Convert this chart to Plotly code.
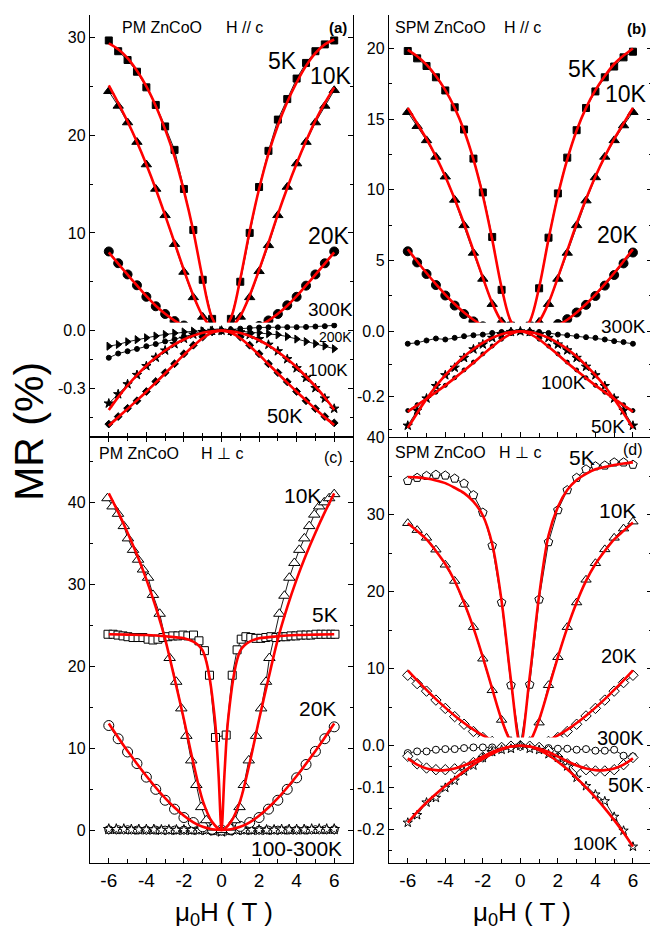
import plotly.graph_objects as go

# The page body has an 8px margin; the figure is sized so that it fills the
# 658x935 window exactly, and reference pixel positions are mapped accordingly.
OFF = 8
W, H = 658 - OFF, 935 - OFF
FONT = "Liberation Sans, Arial, sans-serif"


def fx(px):
    return (px - OFF) / W


def fy(py):
    return 1 - (py - OFF) / H


# ---------------- data ----------------
X_A = [-6.0, -5.5, -5.0, -4.5, -4.0, -3.5, -3.0, -2.5, -2.0, -1.5, -1.0, -0.5, 0.0,
       0.5, 1.0, 1.5, 2.0, 2.5, 3.0, 3.5, 4.0, 4.5, 5.0, 5.5, 6.0]

# panel (a) PM ZnCoO H // c
A5 = [29.7, 28.6, 27.7, 26.5, 24.9, 23.1, 20.9, 18.5, 14.5, 10.3, 5.2, 1.2, 0.0,
      1.2, 5.0, 10.0, 14.7, 18.4, 21.6, 23.7, 25.8, 27.4, 28.6, 29.3, 29.7]
A5_FIT = [29.4, 28.8, 27.9, 26.6, 25.0, 23.0, 20.6, 17.8, 14.3, 10.2, 5.3, 1.3, 0.0,
          1.3, 5.3, 10.2, 14.5, 18.1, 21.0, 23.4, 25.4, 27.1, 28.4, 29.3, 29.8]
A10 = [24.5, 23.0, 21.3, 19.3, 17.0, 14.5, 11.8, 8.85, 6.0, 3.4, 1.4, 0.3, 0.0,
       0.3, 1.4, 3.4, 6.07, 8.73, 11.8, 14.7, 17.1, 19.3, 21.3, 23.0, 24.6]
A10_FIT = [25.1, 23.3, 21.4, 19.3, 17.0, 14.5, 11.8, 9.0, 6.2, 3.6, 1.5, 0.3, 0.0,
           0.3, 1.5, 3.6, 6.2, 9.0, 11.9, 14.6, 17.1, 19.4, 21.5, 23.3, 24.9]
A20 = [8.1, 6.9, 5.75, 4.64, 3.46, 2.49, 1.7, 0.97, 0.52, 0.2, 0.05, 0.01, 0.0,
       0.01, 0.05, 0.14, 0.48, 1.04, 1.7, 2.59, 3.46, 4.6, 5.75, 6.89, 8.1]
A20_FIT = [8.0, 6.85, 5.72, 4.62, 3.52, 2.55, 1.72, 1.03, 0.5, 0.17, 0.03, 0.0, 0.0,
           0.0, 0.03, 0.17, 0.5, 1.03, 1.72, 2.55, 3.52, 4.62, 5.72, 6.85, 8.0]
A300 = [-0.141, -0.119, -0.107, -0.095, -0.081, -0.07, -0.056, -0.045, -0.031, -0.019, -0.009, -0.003, 0.0,
        0.005, 0.01, 0.014, 0.016, 0.017, 0.017, 0.018, 0.018, 0.019, 0.021, 0.023, 0.027]
A200 = [-0.081, -0.072, -0.058, -0.047, -0.037, -0.028, -0.02, -0.013, -0.007, -0.003, -0.001, 0.0, 0.0,
        -0.001, -0.003, -0.007, -0.011, -0.016, -0.022, -0.031, -0.044, -0.057, -0.068, -0.08, -0.094]
A100 = [-0.378, -0.33, -0.278, -0.23, -0.184, -0.14, -0.103, -0.07, -0.042, -0.02, -0.007, -0.001, 0.0,
        -0.002, -0.009, -0.022, -0.044, -0.073, -0.107, -0.148, -0.195, -0.245, -0.298, -0.352, -0.405]
A100_FIT = [-0.412, -0.345, -0.285, -0.231, -0.182, -0.14, -0.103, -0.071, -0.046, -0.026, -0.011, -0.003, 0.0,
            -0.003, -0.012, -0.028, -0.05, -0.077, -0.11, -0.148, -0.19, -0.238, -0.29, -0.347, -0.41]
A50 = [-0.485, -0.446, -0.403, -0.364, -0.316, -0.264, -0.218, -0.172, -0.12, -0.076, -0.033, -0.007, 0.0,
       -0.007, -0.033, -0.076, -0.12, -0.172, -0.218, -0.266, -0.316, -0.364, -0.405, -0.446, -0.479]
A50_FIT = [-0.494, -0.45, -0.406, -0.362, -0.317, -0.27, -0.222, -0.174, -0.126, -0.08, -0.04, -0.01, 0.0,
           -0.01, -0.04, -0.08, -0.126, -0.174, -0.222, -0.27, -0.317, -0.362, -0.406, -0.45, -0.49]

# panel (b) SPM ZnCoO H // c
B5 = [19.82, 19.3, 18.76, 17.96, 17.03, 15.84, 14.27, 12.21, 9.82, 6.67, 2.93, 0.4, 0.0,
      0.4, 3.04, 6.62, 9.75, 12.28, 14.22, 15.79, 16.96, 17.96, 18.72, 19.37, 19.77]
B5_FIT = [19.9, 19.45, 18.85, 18.05, 17.05, 15.8, 14.2, 12.15, 9.6, 6.5, 3.1, 0.7, 0.0,
          0.7, 3.1, 6.5, 9.6, 12.15, 14.2, 15.8, 17.05, 18.05, 18.9, 19.5, 20.0]
B10 = [15.49, 14.5, 13.5, 12.33, 10.93, 9.29, 7.49, 5.54, 3.7, 1.92, 0.7, 0.1, 0.0,
       0.1, 0.66, 1.92, 3.7, 5.54, 7.49, 9.24, 10.88, 12.33, 13.5, 14.55, 15.49]
B10_FIT = [15.8, 14.7, 13.6, 12.35, 10.95, 9.35, 7.6, 5.7, 3.8, 2.0, 0.7, 0.1, 0.0,
           0.1, 0.7, 2.0, 3.8, 5.7, 7.6, 9.35, 10.95, 12.35, 13.6, 14.7, 15.8]
B20 = [5.66, 4.87, 4.05, 3.27, 2.53, 1.82, 1.22, 0.7, 0.35, 0.12, 0.05, 0.01, 0.0,
       0.01, 0.05, 0.23, 0.51, 0.86, 1.33, 1.87, 2.5, 3.23, 3.98, 4.8, 5.57]
B20_FIT = [5.8, 4.95, 4.12, 3.33, 2.6, 1.93, 1.33, 0.82, 0.42, 0.15, 0.03, 0.0, 0.0,
           0.0, 0.03, 0.15, 0.42, 0.82, 1.33, 1.93, 2.6, 3.33, 4.12, 4.95, 5.8]
B300 = [-0.038, -0.035, -0.028, -0.022, -0.025, -0.02, -0.015, -0.012, -0.01, -0.005, -0.002, 0.0, 0.0,
        0.0, -0.002, -0.005, -0.01, -0.012, -0.015, -0.018, -0.02, -0.025, -0.03, -0.033, -0.038]
B100 = [-0.288, -0.242, -0.205, -0.167, -0.134, -0.111, -0.081, -0.055, -0.04, -0.02, -0.01, -0.002, 0.0,
        -0.002, -0.01, -0.02, -0.04, -0.058, -0.081, -0.108, -0.134, -0.167, -0.205, -0.242, -0.288]
B100_FIT = [-0.295, -0.25, -0.207, -0.168, -0.134, -0.104, -0.077, -0.054, -0.035, -0.02, -0.009, -0.002, 0.0,
            -0.002, -0.009, -0.02, -0.035, -0.054, -0.077, -0.104, -0.134, -0.168, -0.207, -0.25, -0.295]
B50 = [-0.242, -0.224, -0.205, -0.186, -0.165, -0.142, -0.118, -0.094, -0.069, -0.045, -0.024, -0.007, 0.0,
       -0.007, -0.024, -0.045, -0.069, -0.094, -0.118, -0.142, -0.165, -0.186, -0.205, -0.224, -0.242]
B50_FIT = [-0.245, -0.226, -0.206, -0.186, -0.165, -0.143, -0.12, -0.096, -0.071, -0.047, -0.025, -0.008, 0.0,
           -0.008, -0.025, -0.047, -0.071, -0.096, -0.12, -0.143, -0.165, -0.186, -0.206, -0.226, -0.245]

# panel (c) PM ZnCoO H perp c
C5_X = [-6.04, -5.77, -5.51, -5.24, -4.98, -4.71, -4.44, -4.18, -3.91, -3.65, -3.38, -3.12, -2.85, -2.59,
        -2.32, -2.05, -1.79, -1.49, -1.2, -0.91, -0.64, -0.32, 0.25, 0.57, 0.83, 1.05, 1.3, 1.56, 1.83,
        2.1, 2.36, 2.63, 2.9, 3.16, 3.43, 3.7, 3.96, 4.23, 4.5, 4.76, 5.03, 5.3, 5.56, 5.83, 6.04]
C5 = [23.9, 23.9, 23.8, 23.7, 23.6, 23.5, 23.5, 23.5, 23.3, 23.2, 23.3, 23.5, 23.6, 23.7,
      23.7, 23.8, 23.7, 23.8, 23.1, 21.9, 18.9, 11.3, 11.6, 18.9, 22.0, 23.3, 23.6, 23.5, 23.4,
      23.4, 23.5, 23.6, 23.5, 23.6, 23.6, 23.7, 23.7, 23.8, 23.8, 23.8, 23.9, 23.9, 23.9, 23.9, 23.9]
C5_FIT_X = [-6.0, -5.0, -4.0, -3.0, -2.0, -1.5, -1.2, -1.0, -0.8, -0.6, -0.4, -0.3, -0.15, 0.0,
            0.15, 0.3, 0.4, 0.6, 0.8, 1.0, 1.2, 1.5, 2.0, 3.0, 4.0, 5.0, 6.0]
C5_FIT = [23.9, 23.85, 23.8, 23.65, 23.4, 23.0, 22.5, 21.9, 20.5, 18.1, 14.5, 12.2, 6.5, 0.0,
          6.5, 12.2, 14.5, 18.1, 20.5, 21.9, 22.5, 23.0, 23.4, 23.65, 23.8, 23.85, 23.9]
C10_X = [-6.07, -5.8, -5.51, -5.2, -4.98, -4.71, -4.44, -4.18, -3.91, -3.65, -3.29, -2.76, -2.41, -2.14,
         -1.87, -1.61, -1.34, -1.08, -0.81, -0.46, 0.0, 0.46, 0.7, 0.96, 1.19, 1.45, 1.84, 2.11, 2.37,
         2.55, 3.08, 3.35, 3.61, 3.88, 4.14, 4.41, 4.67, 4.94, 5.2, 5.47, 5.73, 6.0]
C10 = [40.5, 39.5, 38.6, 37.1, 35.6, 34.2, 33.0, 31.8, 30.8, 28.7, 26.4, 21.0, 18.1, 14.85,
       11.5, 8.5, 5.5, 2.8, 1.2, 0.3, 0.0, 0.3, 1.2, 2.8, 5.5, 8.5, 11.5, 14.85, 18.1,
       21.0, 26.4, 28.6, 30.8, 32.6, 34.2, 35.6, 37.1, 38.5, 39.5, 40.0, 40.5, 41.0]
C10_FIT = [41.1, 38.8, 36.3, 33.6, 30.6, 27.2, 23.3, 18.5, 13.5, 8.2, 3.6, 1.0, 0.0,
           1.0, 3.6, 8.2, 13.5, 18.5, 23.3, 27.2, 30.6, 33.6, 36.3, 38.8, 41.1]
C20 = [12.76, 11.15, 9.53, 8.12, 6.46, 4.97, 3.64, 2.55, 1.53, 0.92, 0.4, 0.1, 0.0,
       0.1, 0.45, 0.92, 1.53, 2.55, 3.64, 4.97, 6.38, 8.0, 9.6, 11.15, 12.6]
C20_FIT = [13.0, 11.3, 9.65, 8.1, 6.6, 5.2, 3.9, 2.75, 1.75, 0.95, 0.4, 0.1, 0.0,
           0.1, 0.4, 0.95, 1.75, 2.75, 3.9, 5.2, 6.6, 8.1, 9.65, 11.3, 13.0]
C_HI_X = [-6.0, -5.6, -5.2, -4.8, -4.4, -4.0, -3.6, -3.2, -2.8, -2.4, -2.0, -1.6, -1.2, -0.8, -0.4, 0.0,
          0.4, 0.8, 1.2, 1.6, 2.0, 2.4, 2.8, 3.2, 3.6, 4.0, 4.4, 4.8, 5.2, 5.6, 6.0]
C100 = [0.1, 0.1, 0.1, 0.05, 0.05, 0.05, 0.05, 0.0, 0.0, 0.0, 0.0, 0.0, 0.0, 0.0, -0.1, -0.2,
        -0.1, 0.0, 0.0, 0.0, 0.0, 0.0, 0.0, 0.05, 0.05, 0.05, 0.05, 0.1, 0.1, 0.1, 0.1]
C200 = [0.05, 0.05, 0.05, 0.0, 0.0, 0.0, 0.0, 0.0, 0.0, 0.0, 0.0, -0.1, 0.0,
        -0.1, 0.0, 0.0, 0.0, 0.0, 0.0, 0.0, 0.0, 0.0, 0.05, 0.05, 0.05]
C300 = [0.0, 0.0, 0.0, 0.0, 0.0, 0.0, 0.0, 0.0, 0.0, 0.0, 0.0, 0.0, 0.0, 0.0, -0.1, -0.1,
        -0.1, 0.0, 0.0, 0.0, 0.0, 0.0, 0.0, 0.0, 0.0, 0.0, 0.0, 0.0, 0.0, 0.0, 0.0]

# panel (d) SPM ZnCoO H perp c
D5 = [34.4, 34.8, 35.05, 35.2, 35.1, 34.7, 34.06, 32.55, 30.28, 25.98, 18.6, 7.86, 0.0,
      7.94, 19.0, 26.45, 30.6, 33.2, 34.8, 35.9, 36.3, 36.4, 36.8, 36.8, 36.5]
D5_FIT = [34.9, 34.85, 34.7, 34.45, 34.1, 33.5, 32.8, 31.7, 29.9, 26.2, 18.8, 8.5, 0.0,
          9.0, 19.5, 27.3, 31.0, 33.2, 34.5, 35.3, 35.9, 36.2, 36.45, 36.65, 36.8]
D10 = [28.9, 28.0, 27.0, 25.46, 23.5, 21.4, 18.4, 15.4, 11.3, 7.2, 3.35, 0.6, 0.0,
       0.6, 3.0, 7.86, 11.5, 15.4, 18.6, 21.55, 23.7, 25.5, 27.0, 28.2, 29.1]
D10_FIT = [28.9, 27.9, 26.8, 25.3, 23.6, 21.4, 18.6, 15.3, 11.5, 7.4, 3.4, 0.6, 0.0,
           0.6, 3.4, 7.4, 11.5, 15.3, 18.6, 21.4, 23.6, 25.3, 26.8, 27.9, 29.0]
D20 = [9.15, 8.07, 7.09, 5.93, 4.85, 3.78, 2.79, 1.85, 1.07, 0.56, 0.21, 0.05, 0.0,
       0.05, 0.21, 0.56, 1.07, 1.85, 2.79, 3.87, 4.85, 5.93, 7.09, 8.2, 9.15]
D20_FIT = [9.8, 8.5, 7.25, 6.05, 4.95, 3.9, 2.95, 2.1, 1.35, 0.72, 0.25, 0.03, 0.0,
           0.03, 0.25, 0.72, 1.35, 2.1, 2.95, 3.9, 4.95, 6.05, 7.25, 8.5, 9.8]
D300 = [-0.0174, -0.0135, -0.0135, -0.0095, -0.008, -0.008, -0.0056, -0.004, -0.004, -0.004, -0.004, -0.002, 0.0,
        -0.002, -0.004, -0.0056, -0.0071, -0.0071, -0.0095, -0.008, -0.0118, -0.0118, -0.0095, -0.0237, -0.0253]
D50 = [-0.025, -0.043, -0.053, -0.057, -0.057, -0.055, -0.05, -0.04, -0.027, -0.012, -0.004, -0.001, 0.0,
       -0.001, -0.004, -0.012, -0.027, -0.043, -0.052, -0.057, -0.06, -0.06, -0.057, -0.045, -0.028]
D50_FIT = [-0.03, -0.045, -0.054, -0.058, -0.058, -0.054, -0.047, -0.037, -0.026, -0.015, -0.007, -0.002, 0.0,
           -0.002, -0.007, -0.015, -0.026, -0.037, -0.047, -0.054, -0.058, -0.058, -0.054, -0.045, -0.03]
D100 = [-0.183, -0.165, -0.135, -0.124, -0.1, -0.083, -0.061, -0.047, -0.029, -0.015, -0.0095, -0.007, 0.0,
        -0.007, -0.01, -0.02, -0.029, -0.049, -0.076, -0.096, -0.116, -0.132, -0.169, -0.202, -0.24]
D100_FIT = [-0.183, -0.158, -0.135, -0.115, -0.096, -0.078, -0.061, -0.045, -0.031, -0.019, -0.009, -0.002, 0.0,
            -0.002, -0.01, -0.022, -0.038, -0.056, -0.077, -0.099, -0.123, -0.149, -0.177, -0.207, -0.24]

# ---------------- figure ----------------
fig = go.Figure()


def data(x, y, xa, ya, symbol, size, filled=True, lw=0.9):
    fig.add_trace(go.Scatter(
        x=x, y=y, xaxis=xa, yaxis=ya, mode="lines+markers",
        line=dict(color="black", width=lw),
        marker=dict(symbol=symbol, size=size,
                    color="black" if filled else "white",
                    line=dict(color="black", width=1)),
        showlegend=False, hoverinfo="skip"))


def fit(x, y, xa, ya):
    fig.add_trace(go.Scatter(
        x=x, y=y, xaxis=xa, yaxis=ya, mode="lines",
        line=dict(color="#ff0000", width=2.6, shape="spline", smoothing=0.9),
        showlegend=False, hoverinfo="skip"))


# (a)
data(X_A, A300, "x", "y2", "circle", 5)
data(X_A, A200, "x", "y2", "triangle-right", 7)
data(X_A, A100, "x", "y2", "star", 7)
data(X_A, A50, "x", "y2", "diamond", 6)
data(X_A, A20, "x", "y", "circle", 9)
data(X_A, A10, "x", "y", "triangle-up", 9)
data(X_A, A5, "x", "y", "square", 7)
fit(X_A, A100_FIT, "x", "y2")
fit(X_A, A50_FIT, "x", "y2")
fit(X_A, A20_FIT, "x", "y")
fit(X_A, A10_FIT, "x", "y")
fit(X_A, A5_FIT, "x", "y")

# (b)
data(X_A, B300, "x2", "y4", "circle", 5)
data(X_A, B100, "x2", "y4", "star", 7)
data(X_A, B50, "x2", "y4", "circle", 4)
data(X_A, B20, "x2", "y3", "circle", 9)
data(X_A, B10, "x2", "y3", "triangle-up", 9)
data(X_A, B5, "x2", "y3", "square", 7)
fit(X_A, B100_FIT, "x2", "y4")
fit(X_A, B50_FIT, "x2", "y4")
fit(X_A, B20_FIT, "x2", "y3")
fit(X_A, B10_FIT, "x2", "y3")
fit(X_A, B5_FIT, "x2", "y3")

# (c)
data(C_HI_X, C300, "x3", "y5", "hexagon", 8, filled=False)
data(X_A, C200, "x3", "y5", "circle", 8, filled=False)
data(C_HI_X, C100, "x3", "y5", "star", 8, filled=False)
data(X_A, C20, "x3", "y5", "circle", 10, filled=False)
data(C10_X, C10, "x3", "y5", "triangle-up", 10, filled=False)
data(C5_X, C5, "x3", "y5", "square", 8, filled=False)
fit(X_A, C20_FIT, "x3", "y5")
fit(X_A, C10_FIT, "x3", "y5")
fit(C5_FIT_X, C5_FIT, "x3", "y5")

# (d)
data(X_A, D300, "x4", "y7", "circle", 7, filled=False)
data(X_A, D50, "x4", "y7", "diamond", 8, filled=False)
data(X_A, D100, "x4", "y7", "star", 7, filled=False)
data(X_A, D20, "x4", "y6", "diamond", 8, filled=False)
data(X_A, D10, "x4", "y6", "triangle-up", 9, filled=False)
data(X_A, D5, "x4", "y6", "pentagon", 9, filled=False)
fit(X_A, D50_FIT, "x4", "y7")
fit(X_A, D100_FIT, "x4", "y7")
fit(X_A, D20_FIT, "x4", "y6")
fit(X_A, D10_FIT, "x4", "y6")
fit(X_A, D5_FIT, "x4", "y6")

# ---------------- axes ----------------
LW = 1.4
minor_x = dict(dtick=1, tick0=0, ticks="inside", ticklen=4, tickcolor="black", tickwidth=1)


def xaxis(dom, anchor, labels, side="bottom", mirror=False):
    return dict(domain=dom, anchor=anchor, range=[-7, 7], side=side,
                tickvals=[-6, -4, -2, 0, 2, 4, 6], ticktext=["-6", "-4", "-2", "0", "2", "4", "6"],
                showticklabels=labels, ticks="inside", ticklen=5, tickwidth=1.2, tickcolor="black",
                minor=minor_x, showline=True, linecolor="black", linewidth=LW,
                mirror="ticks" if mirror else False, showgrid=False, zeroline=False,
                tickfont=dict(family=FONT, size=19, color="black"))


def yaxis(dom, anchor, rng, tv, tt, minor_vals):
    return dict(domain=dom, anchor=anchor, range=rng, tickvals=tv, ticktext=tt,
                ticks="inside", ticklen=5, tickwidth=1.2, tickcolor="black",
                minor=dict(tickvals=minor_vals, ticks="inside", ticklen=3, tickcolor="black", tickwidth=1),
                showline=True, linecolor="black", linewidth=LW, mirror="ticks",
                showgrid=False, zeroline=False,
                tickfont=dict(family=FONT, size=16, color="black"))


LX = [fx(90), fx(353)]
RX = [fx(389), fx(651.7)]
TOP = 8.5  # top frame of panels (a),(b)

layout_axes = dict(
    xaxis=xaxis(LX, "y2", False),
    xaxis2=xaxis(RX, "y4", False),
    xaxis3=xaxis(LX, "y5", True, mirror=True),
    xaxis4=xaxis(RX, "y7", True),
    xaxis5=xaxis(LX, "y", False, side="top"),
    xaxis6=xaxis(RX, "y3", False, side="top"),
    xaxis7=xaxis(RX, "y6", False, side="top"),
    yaxis=yaxis([fy(334), fy(TOP)], "x", [-0.813, (326 - TOP) / 9.843],
                [10, 20, 30], ["10", "20", "30"], [5, 15, 25]),
    yaxis2=yaxis([fy(433), fy(318)], "x", [-0.551, 0.0412], [0, -0.3], ["0.0", "-0.3"], [-0.15, -0.45]),
    yaxis3=yaxis([fy(334.7), fy(TOP)], "x2", [-0.561, (326.7 - TOP) / 14.25],
                 [5, 10, 15, 20], ["5", "10", "15", "20"], [2.5, 7.5, 12.5, 17.5]),
    yaxis4=yaxis([fy(433), fy(318)], "x2", [-0.3221, 0.0264], [0, -0.2], ["0.0", "-0.2"], [-0.1, -0.3]),
    yaxis5=yaxis([fy(862.3), fy(433)], "x3", [-4, 48], [0, 10, 20, 30, 40], ["0", "10", "20", "30", "40"],
                 [5, 15, 25, 35, 45]),
    yaxis6=yaxis([fy(752.3), fy(433)], "x4", [-1.03, 40.12], [10, 20, 30, 40], ["10", "20", "30", "40"],
                 [5, 15, 25, 35]),
    yaxis7=yaxis([fy(862.3), fy(736)], "x4", [-0.2786, 0.0196], [0, -0.1, -0.2], ["0.0", "-0.1", "-0.2"],
                 [-0.05, -0.15, -0.25]),
)

# ---------------- annotations ----------------
ann = []


def label(text, px, py, size, xanchor="center", bold=False, angle=0):
    if bold:
        text = "<b>" + text + "</b>"
    ann.append(dict(text=text, x=fx(px), y=fy(py), xref="paper", yref="paper",
                    xanchor=xanchor, yanchor="middle", showarrow=False, textangle=angle,
                    font=dict(family=FONT, size=size, color="black")))


# headers
label("PM ZnCoO", 120, 21, 16, "left")
label("H // c", 224, 21, 16, "left")
label("(a)", 338, 21, 15, bold=True)
label("SPM ZnCoO", 393, 21, 16, "left")
label("H // c", 502, 21, 16, "left")
label("(b)", 636, 22, 15, bold=True)
label("PM ZnCoO", 97, 450, 16, "left")
label("H \u22a5 c", 199, 450, 16, "left")
label("(c)", 334, 454, 16)
label("SPM ZnCoO", 393, 449, 16, "left")
label("H \u22a5 c", 497, 449, 16, "left")
label("(d)", 633, 446, 16)

# temperatures (a)
label("5K", 282, 54, 23)
label("10K", 331, 69, 23)
label("20K", 329, 231, 23)
label("300K", 330, 305, 19)
label("200K", 335, 332, 14)
label("100K", 328, 366, 17)
label("50K", 285, 412, 20)
# (b)
label("5K", 582, 62, 23)
label("10K", 626, 88, 23)
label("20K", 618, 230, 23)
label("300K", 623, 322, 19)
label("100K", 563, 378, 19)
label("50K", 608, 423, 19)
# (c)
label("10K", 302, 492, 21)
label("5K", 325, 612, 21)
label("20K", 317, 707, 21)
label("100-300K", 296, 848, 21)
# (d)
label("5K", 582, 454, 21)
label("10K", 617, 507, 21)
label("20K", 619, 654, 20)
label("300K", 620, 737, 20)
label("50K", 626, 784, 20)
label("100K", 595, 843, 19)

# axis titles
label("MR (%)", 29, 428, 41, angle=-90)
label("\u03bc<sub>0</sub>H ( T )", 224, 913, 26)
label("\u03bc<sub>0</sub>H ( T )", 522, 913, 26)

fig.update_layout(
    width=W, height=H, autosize=False,
    margin=dict(l=0, r=0, t=0, b=0),
    paper_bgcolor="white", plot_bgcolor="white",
    font=dict(family=FONT, color="black"),
    annotations=ann,
    **layout_axes,
)

fig.write_html("out.html")
